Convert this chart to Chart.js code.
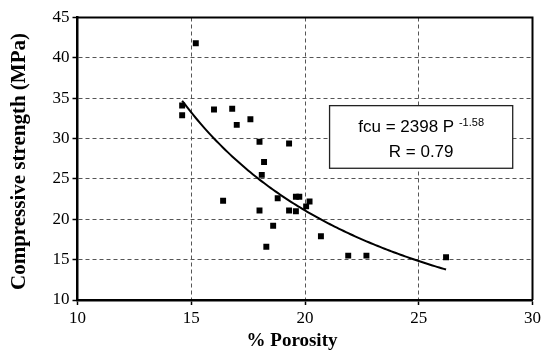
<!DOCTYPE html>
<html>
<head>
<meta charset="utf-8">
<script src="https://cdn.jsdelivr.net/npm/chart.js@4.4.1/dist/chart.umd.min.js"></script>
<style>
    html, body { margin: 0; padding: 0; background: #fff; }
    #wrap { width: 544px; height: 354px; }
</style>
</head>
<body>
<div id="wrap"><canvas id="chart" width="544" height="354"></canvas></div>
<script>
// Porosity (%) vs compressive strength (MPa)
const porosity = [15.2, 14.6, 14.6, 16.0, 16.8, 17.0, 17.6, 18.0, 19.3, 18.2, 18.1, 16.4, 18.0,
                  18.6, 18.3, 18.8, 19.3, 19.6, 19.6, 19.75, 20.05, 20.2, 20.7, 21.9, 22.7, 26.2];
const strength = [41.8, 34.1, 32.9, 33.6, 33.7, 31.7, 32.4, 29.6, 29.4, 27.1, 25.5, 22.3, 21.1,
                  19.2, 16.6, 22.6, 21.1, 21.0, 22.8, 22.8, 21.6, 22.2, 17.9, 15.5, 15.5, 15.3];

const xTicks = [10, 15, 20, 25, 30];
const yTicks = [10, 15, 20, 25, 30, 35, 40, 45];

// Power fit fcu = a * P^b
const fitA = 2398;
const fitB = -1.58;
const fitR = 0.79;
const fitFrom = 14.6;
const fitTo = 26.2;

const fitLine = [];
for (let p = fitFrom; p <= fitTo + 1e-9; p += 0.2) {
    fitLine.push({ x: p, y: fitA * Math.pow(p, fitB) });
}

const serif = '"Liberation Serif", "Times New Roman", serif';
const sans = '"Liberation Sans", Arial, sans-serif';

// Frame, axis titles and equation box
const extras = {
    id: 'extras',
    afterDraw(chart) {
        const { ctx, chartArea: a, scales: { x, y } } = chart;
        ctx.save();

        // top/right border
        ctx.strokeStyle = '#000';
        ctx.lineWidth = 2;
        ctx.beginPath();
        ctx.moveTo(a.left, a.top);
        ctx.lineTo(a.right, a.top);
        ctx.lineTo(a.right, a.bottom);
        ctx.stroke();

        // axis titles
        ctx.fillStyle = '#000';
        ctx.textAlign = 'center';
        ctx.textBaseline = 'middle';
        ctx.font = 'bold 19px ' + serif;
        ctx.fillText('% Porosity', 292, 341);
        ctx.font = 'bold 21px ' + serif;
        ctx.translate(19.5, 161.5);
        ctx.rotate(-Math.PI / 2);
        ctx.fillText('Compressive strength (MPa)', 0, 0);
        ctx.setTransform(1, 0, 0, 1, 0, 0);

        // equation box
        const bx0 = x.getPixelForValue(21.08), bx1 = x.getPixelForValue(29.13);
        const by0 = y.getPixelForValue(34.08), by1 = y.getPixelForValue(26.32);
        ctx.fillStyle = '#fff';
        ctx.fillRect(bx0, by0, bx1 - bx0, by1 - by0);
        ctx.strokeStyle = '#222';
        ctx.lineWidth = 1.3;
        ctx.strokeRect(bx0, by0, bx1 - bx0, by1 - by0);

        const cx = (bx0 + bx1) / 2;
        const main = 'fcu = ' + fitA + ' P ';
        const sup = String(fitB);
        ctx.fillStyle = '#000';
        ctx.textBaseline = 'alphabetic';
        ctx.textAlign = 'left';
        ctx.font = '17px ' + sans;
        const wMain = ctx.measureText(main).width;
        ctx.font = '11px ' + sans;
        const wSup = ctx.measureText(sup).width;
        const start = cx - (wMain + wSup) / 2;
        ctx.font = '17px ' + sans;
        ctx.fillText(main, start, by0 + 26.5);
        ctx.font = '11px ' + sans;
        ctx.fillText(sup, start + wMain, by0 + 20);
        ctx.font = '17px ' + sans;
        ctx.textAlign = 'center';
        ctx.fillText('R = ' + fitR.toFixed(2), cx, by0 + 51.5);

        ctx.restore();
    }
};

const axisCommon = {
    type: 'linear',
    grid: {
        color: '#555',
        lineWidth: 1,
        tickLength: 5,
        tickColor: '#000',
        tickWidth: 1.5
    },
    border: { display: true, color: '#000', width: 2.5, dash: [4, 3] },
    ticks: {
        color: '#000',
        font: { family: serif, size: 17 },
        padding: 3
    }
};

new Chart(document.getElementById('chart'), {
    type: 'scatter',
    data: {
        datasets: [
            {
                label: 'Data',
                data: porosity.map((p, i) => ({ x: p, y: strength[i] })),
                pointStyle: 'rect',
                pointRadius: 4.2,
                backgroundColor: '#000',
                borderWidth: 0
            },
            {
                label: 'Fit',
                type: 'line',
                data: fitLine,
                borderColor: '#000',
                borderWidth: 2,
                pointRadius: 0,
                tension: 0.3,
                fill: false
            }
        ]
    },
    options: {
        responsive: false,
        animation: false,
        layout: { padding: { top: 17.5, right: 11, left: 0, bottom: 0 } },
        plugins: {
            legend: { display: false },
            tooltip: { enabled: false }
        },
        scales: {
            x: {
                ...axisCommon,
                min: 10,
                max: 30,
                afterBuildTicks: s => { s.ticks = xTicks.map(v => ({ value: v })); },
                afterFit: s => { s.height = 54; }
            },
            y: {
                ...axisCommon,
                min: 10,
                max: 45,
                afterBuildTicks: s => { s.ticks = yTicks.map(v => ({ value: v })); },
                afterFit: s => { s.width = 77.5; }
            }
        }
    },
    plugins: [extras]
});
</script>
</body>
</html>
